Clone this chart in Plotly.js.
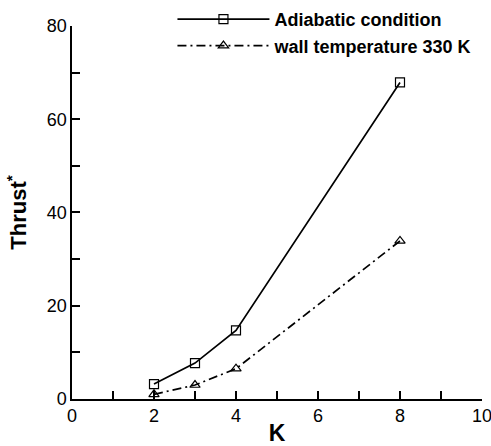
<!DOCTYPE html>
<html><head><meta charset="utf-8">
<script src="https://cdn.plot.ly/plotly-3.0.1.min.js"></script>
<style>html,body{margin:0;padding:0;background:#fff}</style>
</head><body>
<div id="chart" style="width:491px;height:446px"></div>
<script>
const K = [2, 3, 4, 8];
const adiabatic = [3.2, 7.7, 14.7, 67.9];
const wall330 = [1.0, 3.0, 6.5, 33.9];
const seriesNames = ["Adiabatic condition", "wall temperature 330 K"];
const xTicks = [0, 2, 4, 6, 8, 10];
const yTicks = [0, 20, 40, 60, 80];

const traces = [
  {x: K, y: adiabatic, name: seriesNames[0], type: 'scatter', mode: 'lines+markers',
   line: {color: '#000', width: 1.7, dash: 'solid'},
   marker: {symbol: 'square-open', size: 9, color: '#000', line: {width: 1.2, color: '#000'}}},
  {x: K, y: wall330, name: seriesNames[1], type: 'scatter', mode: 'lines+markers',
   line: {color: '#000', width: 1.7, dash: '9px,4px,2px,4px'},
   marker: {symbol: 'triangle-up-open', size: 9, color: '#000', line: {width: 1.2, color: '#000'}}}
];

const layout = {
  width: 491, height: 446,
  margin: {l: 72, r: 9, t: 1, b: 47},
  paper_bgcolor: '#fff', plot_bgcolor: '#fff',
  font: {family: 'Liberation Sans, Arial, sans-serif', color: '#000', size: 18},
  showlegend: true,
  legend: {x: 0.245, y: 1.0, xanchor: 'left', yanchor: 'top',
           bgcolor: 'rgba(0,0,0,0)',
           font: {size: 18, family: 'Liberation Sans, Arial, sans-serif', weight: 'bold'},
           itemwidth: 92, tracegroupgap: 0},
  xaxis: {range: [0, 10], tickmode: 'linear', tick0: 0, dtick: 1,
          tickvals: xTicks,
          ticklabeloverflow: 'allow', ticklabelstep: 2,
          ticks: 'inside', ticklen: 8, tickwidth: 2, tickcolor: '#000',
          showgrid: false, zeroline: false, showline: true, linewidth: 1.6, linecolor: '#000',
          tickfont: {size: 18}, title: {text: '<b>K</b>', font: {size: 23}, standoff: 4}},
  yaxis: {range: [0, 80], domain: [0, 0.9372], tickmode: 'linear', tick0: 0, dtick: 10,
          tickvals: yTicks,
          ticklabeloverflow: 'allow', ticklabelstep: 2,
          ticks: 'inside', ticklen: 8, tickwidth: 2, tickcolor: '#000',
          showgrid: false, zeroline: false, showline: true, linewidth: 1.6, linecolor: '#000',
          tickfont: {size: 18}, title: {text: '<b>Thrust<sup>*</sup></b>', font: {size: 22}, standoff: 14}}
};
Plotly.newPlot('chart', traces, layout, {displayModeBar: false, staticPlot: true});
</script>
</body></html>
